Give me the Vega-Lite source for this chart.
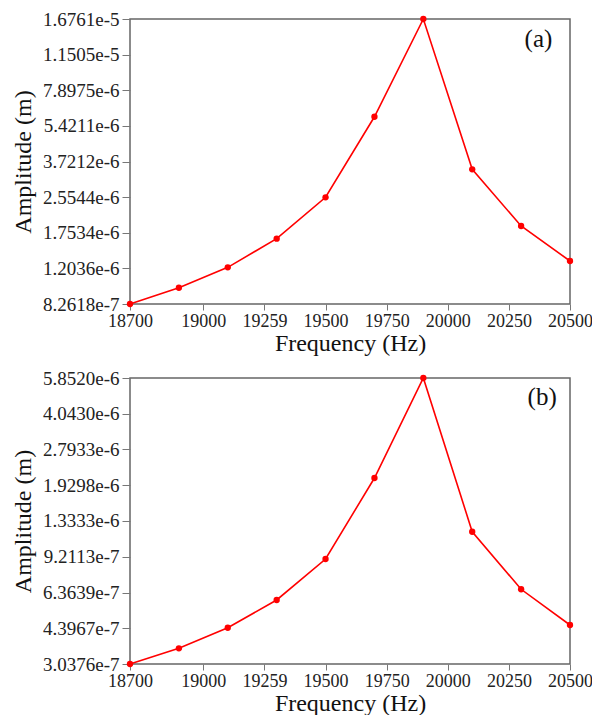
{
  "$schema": "https://vega.github.io/schema/vega-lite/v6.json",
  "background": "white",
  "padding": {"left": 10, "top": 9, "right": 0, "bottom": 0},
  "spacing": 12,
  "datasets": {
    "a": [
      {"freq": 18700, "amp": 8.2618e-7},
      {"freq": 18900, "amp": 9.81e-7},
      {"freq": 19100, "amp": 1.217e-6},
      {"freq": 19300, "amp": 1.647e-6},
      {"freq": 19500, "amp": 2.55e-6},
      {"freq": 19700, "amp": 5.97e-6},
      {"freq": 19900, "amp": 1.6761e-5},
      {"freq": 20100, "amp": 3.427e-6},
      {"freq": 20300, "amp": 1.883e-6},
      {"freq": 20500, "amp": 1.301e-6}
    ],
    "b": [
      {"freq": 18700, "amp": 3.0376e-7},
      {"freq": 18900, "amp": 3.573e-7},
      {"freq": 19100, "amp": 4.42e-7},
      {"freq": 19300, "amp": 5.89e-7},
      {"freq": 19500, "amp": 9.0e-7},
      {"freq": 19700, "amp": 2.08e-6},
      {"freq": 19900, "amp": 5.852e-6},
      {"freq": 20100, "amp": 1.193e-6},
      {"freq": 20300, "amp": 6.58e-7},
      {"freq": 20500, "amp": 4.547e-7}
    ],
    "labA": [{"panel": "(a)"}],
    "labB": [{"panel": "(b)"}]
  },
  "vconcat": [
    {
      "width": 440,
      "height": 285,
      "layer": [
        {
          "data": {"name": "a"},
          "mark": {"type": "line", "color": "#ff0000", "strokeWidth": 1.6, "point": {"filled": true, "size": 40, "color": "#ff0000"}},
          "encoding": {
            "x": {"field": "freq", "type": "quantitative", "title": "Frequency (Hz)",
                  "scale": {"domain": [18700, 20500], "nice": false, "zero": false},
                  "axis": {"values": [18700, 19000, 19250, 19500, 19750, 20000, 20250, 20500], "labelExpr": "datum.value == 19250 ? '19259' : format(datum.value, 'd')"}},
            "y": {"field": "amp", "type": "quantitative", "title": "Amplitude (m)",
                  "scale": {"type": "log", "domain": [8.2618e-7, 1.6761e-5], "nice": false, "zero": false},
                  "axis": {"values": [8.2618e-7, 1.2036e-6, 1.7534e-6, 2.5544e-6, 3.7212e-6, 5.4211e-6, 7.8975e-6, 1.1505e-5, 1.6761e-5], "format": ".4e"}}
          }
        },
        {
          "data": {"name": "labA"},
          "mark": {"type": "text", "font": "Liberation Serif", "fontSize": 25, "color": "#111", "baseline": "middle", "align": "center"},
          "encoding": {
            "text": {"field": "panel"},
            "x": {"datum": 20371, "type": "quantitative"},
            "y": {"datum": 1.355e-5, "type": "quantitative"}
          }
        }
      ]
    },
    {
      "width": 440,
      "height": 286,
      "layer": [
        {
          "data": {"name": "b"},
          "mark": {"type": "line", "color": "#ff0000", "strokeWidth": 1.6, "point": {"filled": true, "size": 40, "color": "#ff0000"}},
          "encoding": {
            "x": {"field": "freq", "type": "quantitative", "title": "Frequency (Hz)",
                  "scale": {"domain": [18700, 20500], "nice": false, "zero": false},
                  "axis": {"values": [18700, 19000, 19250, 19500, 19750, 20000, 20250, 20500], "labelExpr": "datum.value == 19250 ? '19259' : format(datum.value, 'd')"}},
            "y": {"field": "amp", "type": "quantitative", "title": "Amplitude (m)",
                  "scale": {"type": "log", "domain": [3.0376e-7, 5.852e-6], "nice": false, "zero": false},
                  "axis": {"values": [3.0376e-7, 4.3967e-7, 6.3639e-7, 9.2113e-7, 1.3333e-6, 1.9298e-6, 2.7933e-6, 4.0430e-6, 5.8520e-6], "format": ".4e"}}
          }
        },
        {
          "data": {"name": "labB"},
          "mark": {"type": "text", "font": "Liberation Serif", "fontSize": 25, "color": "#111", "baseline": "middle", "align": "center"},
          "encoding": {
            "text": {"field": "panel"},
            "x": {"datum": 20386, "type": "quantitative"},
            "y": {"datum": 4.8e-6, "type": "quantitative"}
          }
        }
      ]
    }
  ],
  "config": {
    "font": "Liberation Serif",
    "view": {"stroke": "#666666", "strokeWidth": 1.5},
    "axis": {
      "grid": false,
      "domain": false,
      "tickColor": "#777777",
      "tickWidth": 1,
      "labelFont": "Liberation Serif",
      "labelColor": "#222222",
      "titleFont": "Liberation Serif",
      "titleFontSize": 24,
      "titleFontWeight": "normal",
      "titleColor": "#111111",
      "labelOverlap": false,
      "labelFlush": false
    },
    "axisX": {"titlePadding": 1, "tickSize": 6, "labelPadding": 2, "labelFontSize": 18},
    "axisY": {"titlePadding": 7, "tickSize": 8, "labelPadding": 3, "labelFontSize": 19}
  }
}
